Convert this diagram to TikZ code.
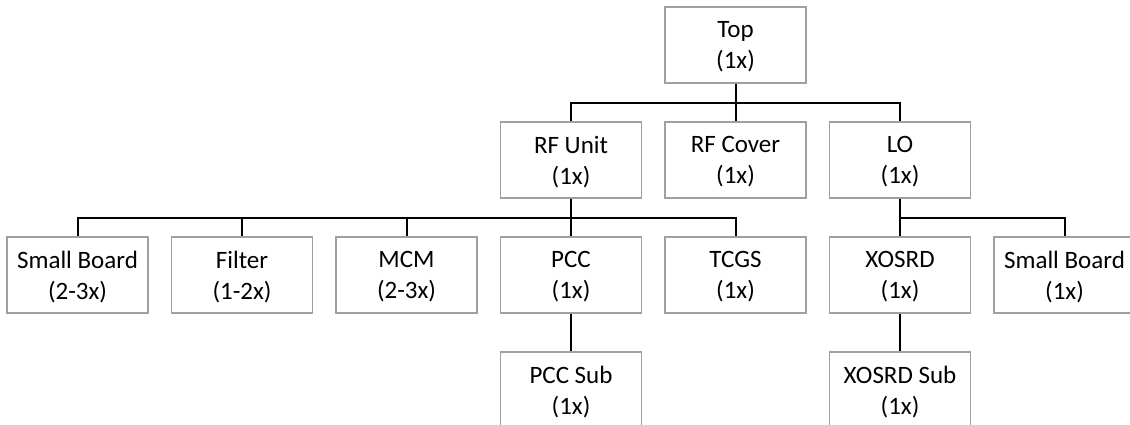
\documentclass[tikz,border=0pt]{standalone}
\usepackage{fontspec}
\setmainfont{Carlito}
\definecolor{boxgray}{HTML}{A0A0A0}
\begin{document}
\begin{tikzpicture}[x=1pt,y=-1pt,
  box/.style={draw=boxgray, line width=1.2pt, minimum width=141pt, minimum height=76pt,
    inner sep=0pt, align=center, text depth=0pt, font=\fontsize{25}{31}\selectfont},
  link/.style={line width=2pt, black}]
\useasboundingbox (0,0) rectangle (1130,425);
\clip (0,0) rectangle (1130,425);
% row 1
\node[box] (top) at (735.5,45) {Top\\(1x)};
% row 2
\node[box] (rfunit) at (571,160) {RF Unit\\(1x)};
\node[box] (rfcover) at (735.5,160) {RF Cover\\(1x)};
\node[box] (lo) at (900,160) {LO\\(1x)};
% row 3
\node[box] (sb1) at (77.5,275) {Small Board\\(2-3x)};
\node[box] (filter) at (242,275) {Filter\\(1-2x)};
\node[box] (mcm) at (406.5,275) {MCM\\(2-3x)};
\node[box] (pcc) at (571,275) {PCC\\(1x)};
\node[box] (tcgs) at (735.5,275) {TCGS\\(1x)};
\node[box] (xosrd) at (900,275) {XOSRD\\(1x)};
\node[box] (sb2) at (1064.5,275) {Small Board\\(1x)};
% row 4
\node[box] (pccsub) at (571,390) {PCC Sub\\(1x)};
\node[box] (xosrdsub) at (900,390) {XOSRD Sub\\(1x)};
% bus levels
\coordinate (bus1) at (0,103);
\coordinate (bus2) at (0,218);
% connectors
\foreach \c in {rfunit,rfcover,lo}
  \draw[link] (top.south) -- (top.south |- bus1) -| (\c.north);
\foreach \c in {sb1,filter,mcm,pcc,tcgs}
  \draw[link] (rfunit.south) -- (rfunit.south |- bus2) -| (\c.north);
\foreach \c in {xosrd,sb2}
  \draw[link] (lo.south) -- (lo.south |- bus2) -| (\c.north);
\draw[link] (pcc.south) -- (pccsub.north);
\draw[link] (xosrd.south) -- (xosrdsub.north);
\end{tikzpicture}
\end{document}
